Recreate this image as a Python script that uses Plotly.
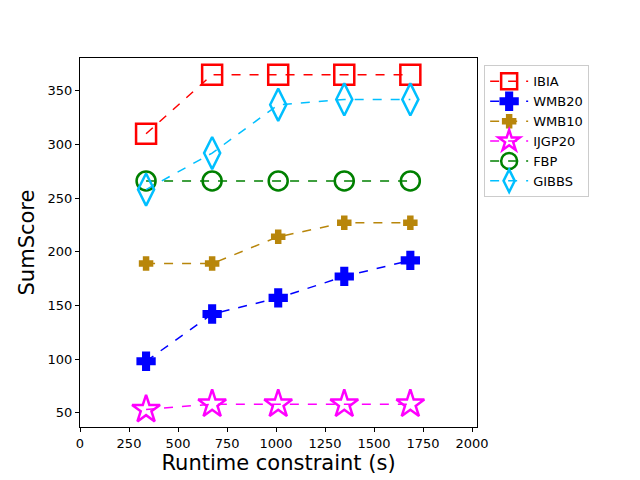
import plotly.graph_objects as go

runtime = [337, 674, 1011, 1348, 1685]
ibia = [310, 365, 365, 365, 365]
wmb20 = [98, 142, 157, 177, 192]
wmb10 = [189, 189, 214, 227, 227]
ijgp20 = [53, 58, 58, 58, 58]
fbp = [266, 266, 266, 266, 266]
gibbs = [258, 292, 337, 342, 342]

series = [
    ('IBIA', ibia, 'red', 'square-open', 20),
    ('WMB20', wmb20, 'blue', 'cross', 14),
    ('WMB10', wmb10, '#b8860b', 'cross', 10),
    ('IJGP20', ijgp20, 'magenta', 'star-open', 21),
    ('FBP', fbp, 'green', 'circle-open', 19),
    ('GIBBS', gibbs, '#00bfff', 'diamond-tall-open', 23),
]

fig = go.Figure()
for name, y, color, symbol, size in series:
    fig.add_trace(go.Scatter(
        x=runtime, y=y, name=name, mode='lines+markers',
        line=dict(color=color, width=1.5, dash='dash'),
        marker=dict(symbol=symbol, size=size, color=color,
                    line=dict(color=color, width=2.5)),
    ))

axis = dict(showgrid=False, zeroline=False, showline=True, linecolor='black',
            linewidth=1, mirror=True, ticks='outside', ticklen=4,
            tickcolor='black', tickfont=dict(size=13, color='black'),
            automargin=False)

# page body adds 8px on top/left, so the figure is 8px smaller than the window
fig.update_layout(
    width=632, height=472,
    margin=dict(l=72, r=163, t=50, b=53),
    plot_bgcolor='white', paper_bgcolor='white',
    font=dict(family='DejaVu Sans', color='black'),
    xaxis=dict(axis, range=[0, 2025], tickvals=[0, 250, 500, 750, 1000, 1250, 1500, 1750, 2000],
               title=dict(text='Runtime constraint (s)', font=dict(size=21), standoff=5)),
    yaxis=dict(axis, range=[36.7, 380.6], tickvals=[50, 100, 150, 200, 250, 300, 350],
               title=dict(text='SumScore', font=dict(size=21), standoff=7)),
    legend=dict(x=1.018, y=0.98, xanchor='left', yanchor='top',
                bordercolor='#cccccc', borderwidth=1, font=dict(size=13),
                itemwidth=38, tracegroupgap=0),
    showlegend=True,
)

fig.write_html('out.html')
